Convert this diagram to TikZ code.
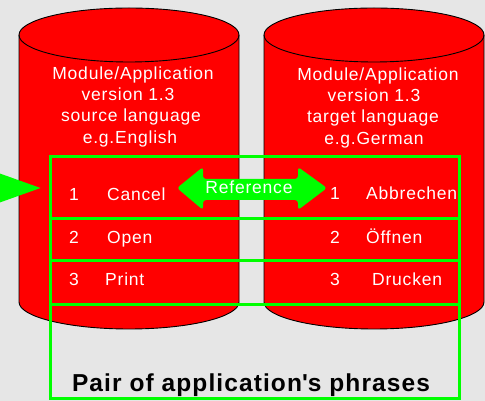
\documentclass[tikz,border=0pt]{standalone}
\usepackage{fontspec}
\setmainfont{Liberation Sans}[LetterSpace=4.5]
\definecolor{bggray}{HTML}{E6E6E6}
\definecolor{cylred}{HTML}{FF0000}
\definecolor{lgreen}{HTML}{00FF00}
\tikzset{
  cyl/.style={fill=cylred,draw=black,line width=0.9pt},
  gbox/.style={draw=lgreen,line width=3pt},
  head/.style={text=white,font=\fontsize{17.5}{20}\selectfont,anchor=base,inner sep=0pt},
  rowtxt/.style={text=white,font=\fontsize{17.5}{20}\selectfont,anchor=base west,inner sep=0pt},
  rownum/.style={text=white,font=\fontsize{17.5}{20}\selectfont,anchor=base,inner sep=0pt},
  garrow/.style={fill=lgreen,draw=none},
}
\begin{document}
\begin{tikzpicture}[x=1pt,y=1pt]
\useasboundingbox (0,0) rectangle (485,401);
\clip (0,0) rectangle (485,401);
\fill[bggray] (0,0) rectangle (485,401);
% cylinders
\foreach \cx/\nm in {129/L,374/R}{
  \draw[cyl] (\cx-110,366) -- (\cx-110,99)
     arc[start angle=180,end angle=360,x radius=110,y radius=27]
     -- (\cx+110,366)
     arc[start angle=0,end angle=180,x radius=110,y radius=27] -- cycle;
  \draw[line width=0.9pt] (\cx-110,366)
     arc[start angle=180,end angle=360,x radius=110,y radius=27];
}
% heading texts
\node[head] (l1) at (133,321) {Module/Application};
\node[head] (l2) at (128,300) {version 1.3};
\node[head] (l3) at (131,279) {source language};
\node[head] (l4) at (130,257) {e.g.English};
\node[head] (r1) at (378,320) {Module/Application};
\node[head] (r2) at (374,299) {version 1.3};
\node[head] (r3) at (373,278) {target language};
\node[head] (r4) at (374,256) {e.g.German};
% green boxes
\draw[gbox] (50,244) rectangle (459,2);
\draw[gbox] (50,182) -- (459,182);
\draw[gbox] (50,140) -- (459,140);
\draw[gbox] (50,96) -- (459,96);
% row texts
\node[rownum] (n1) at (74,200) {1};
\node[rowtxt] (t1) at (107,200) {Cancel};
\node[rownum] (n2) at (74,157) {2};
\node[rowtxt] (t2) at (107,157) {Open};
\node[rownum] (n3) at (74,115) {3};
\node[rowtxt] (t3) at (105,115) {Print};
\node[rownum] (m1) at (335,201) {1};
\node[rowtxt] (u1) at (366,201) {Abbrechen};
\node[rownum] (m2) at (335,157) {2};
\node[rowtxt] (u2) at (366,157) {Öffnen};
\node[rownum] (m3) at (335,115) {3};
\node[rowtxt] (u3) at (372,115) {Drucken};
% double arrow
\fill[garrow,rounded corners=3pt] (177,213) -- (203,234) -- (203,222) -- (298,222)
  -- (298,234) -- (327,213) -- (298,191) -- (298,201) -- (203,201) -- (203,191) -- cycle;
\node[head] (ref) at (249,207) {Reference};
% left incoming arrow head
\fill[garrow] (-10,231) -- (40.5,213) -- (-10,195) -- cycle;
% bottom caption
\node[anchor=base,inner sep=0pt,font=\fontsize{24.5}{28}\selectfont\bfseries] (cap) at (251,9) {Pair of application\textquotesingle s phrases};
\end{tikzpicture}
\end{document}
